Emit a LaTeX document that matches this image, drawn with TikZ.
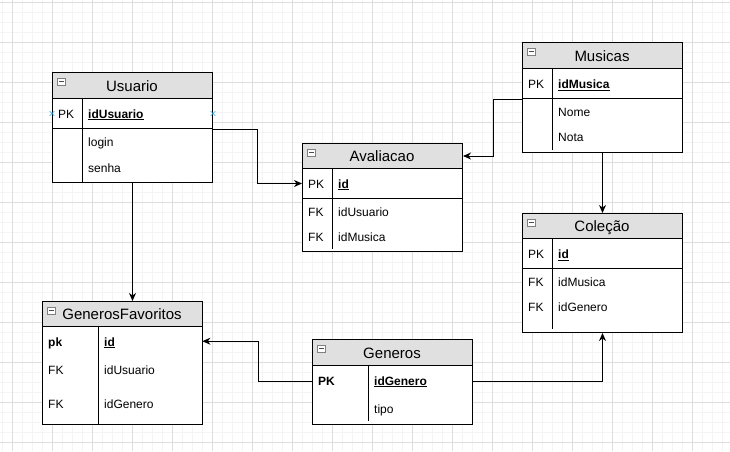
\documentclass[tikz,border=0pt]{standalone}
\usepackage{fontspec}
\setmainfont{Liberation Sans}
\usetikzlibrary{arrows.meta,shapes.misc}

\definecolor{headgray}{RGB}{224,224,224}
\definecolor{gridminor}{RGB}{244,244,244}
\definecolor{gridmajor}{RGB}{222,222,222}
\definecolor{pinblue}{RGB}{41,170,230}

\tikzset{
  tablebox/.style={draw=black, line width=1pt, fill=white, inner sep=0pt, rectangle},
  headbox/.style={draw=black, line width=1pt, fill=headgray, inner sep=0pt, rectangle},
  keyrow/.style={draw=black, line width=1pt, inner sep=0pt, minimum width=160pt, rectangle},
  plainrow/.style={inner sep=0pt, minimum width=160pt, rectangle},
  toggle/.style={draw=gray, fill=white, minimum width=8pt, minimum height=7pt,
    inner sep=0pt, line width=0.7pt, rectangle,
    path picture={\draw[line width=0.8pt, black!70]
      ([xshift=1.8pt]path picture bounding box.west) --
      ([xshift=-1.8pt]path picture bounding box.east);}},
  titletext/.style={anchor=base, inner sep=0pt, font=\fontsize{15}{18}\selectfont},
  fieldtext/.style={anchor=base west, inner sep=0pt, font=\fontsize{12}{14}\selectfont},
  keytext/.style={anchor=base west, inner sep=0pt, font=\fontsize{12}{14}\selectfont\bfseries},
  divider/.style={line width=1pt},
  conn/.style={line width=1pt, -{Stealth[length=8pt,width=7pt,inset=2.5pt]}},
  pin/.style={cross out, draw=pinblue, line width=0.6pt, minimum size=4pt, inner sep=0pt}
}

% table frame: name, left, top, height, header height, title baseline, title
\newcommand\ertable[7]{%
  \node[tablebox, minimum width=160pt, minimum height=#4pt, anchor=north west] (#1) at (#2,#3) {};
  \node[headbox, minimum width=160pt, minimum height=#5pt, anchor=north west] (#1-head) at (#2,#3) {};
  \node[toggle, anchor=north west] (#1-toggle) at ([shift={(5pt,-6pt)}]#1-head.north west) {};
  \node[titletext] (#1-title) at ({#2+80},#6) {#7};
}

\begin{document}
\begin{tikzpicture}[x=1pt,y=-1pt]
\useasboundingbox (0,0) rectangle (730,451);
\fill[white] (0,0) rectangle (730,451);

% background grid
\foreach \x in {2,12,...,722} \draw[gridminor, line width=0.8pt] (\x,0) -- (\x,451);
\foreach \y in {2,12,...,442} \draw[gridminor, line width=0.8pt] (0,\y) -- (730,\y);
\foreach \x in {12,52,...,692} \draw[gridmajor, line width=0.8pt] (\x,0) -- (\x,451);
\foreach \y in {2,42,...,442} \draw[gridmajor, line width=0.8pt] (0,\y) -- (730,\y);

% Usuario
\ertable{usuario}{52}{72}{110}{26}{91}{Usuario}
\node[keyrow, minimum height=30pt, anchor=north west] (usuario-pk) at (52,98) {};
\draw[divider] (82,98) -- (82,182);
\node[fieldtext] (usuario-pkl) at (58,118) {PK};
\node[keytext] (usuario-id) at (88,118) {\underline{idUsuario}};
\node[fieldtext] (usuario-login) at (88,146.5) {login};
\node[fieldtext] (usuario-senha) at (88,172) {senha};
\node[pin] (usuario-pinl) at (usuario-pk.west) {};
\node[pin] (usuario-pinr) at (usuario-pk.east) {};

% Avaliacao
\ertable{aval}{302}{143}{108}{25}{161}{Avaliacao}
\node[keyrow, minimum height=30pt, anchor=north west] (aval-pk) at (302,168) {};
\draw[divider] (332,168) -- (332,249);
\node[fieldtext] (aval-pkl) at (308,188) {PK};
\node[keytext] (aval-id) at (338,188) {\underline{id}};
\node[fieldtext] (aval-fk1) at (308,216) {FK};
\node[fieldtext] (aval-usr) at (338,216) {idUsuario};
\node[fieldtext] (aval-fk2) at (308,241) {FK};
\node[fieldtext] (aval-mus) at (338,241) {idMusica};

% Musicas
\ertable{musicas}{522}{42}{110}{26}{61}{Musicas}
\node[keyrow, minimum height=30pt, anchor=north west] (musicas-pk) at (522,68) {};
\draw[divider] (552,68) -- (552,150);
\node[fieldtext] (musicas-pkl) at (528,88.5) {PK};
\node[keytext] (musicas-id) at (558,88.5) {\underline{idMusica}};
\node[fieldtext] (musicas-nome) at (558,116) {Nome};
\node[fieldtext] (musicas-nota) at (558,141.5) {Nota};

% Colecao
\ertable{colecao}{522}{213}{119}{25}{231}{Coleção}
\node[keyrow, minimum height=30pt, anchor=north west] (colecao-pk) at (522,238) {};
\draw[divider] (552,238) -- (552,329);
\node[fieldtext] (colecao-pkl) at (528,258.5) {PK};
\node[keytext] (colecao-id) at (558,258.5) {\underline{id}};
\node[fieldtext] (colecao-fk1) at (528,286) {FK};
\node[fieldtext] (colecao-mus) at (558,286) {idMusica};
\node[fieldtext] (colecao-fk2) at (528,311) {FK};
\node[fieldtext] (colecao-gen) at (558,311) {idGenero};

% GenerosFavoritos
\ertable{genfav}{42}{301}{123}{25}{319.5}{GenerosFavoritos}
\node[plainrow, minimum height=30pt, anchor=north west] (genfav-pk) at (42,326) {};
\draw[divider] (98,326) -- (98,424);
\node[keytext] (genfav-pkl) at (48,346) {pk};
\node[keytext] (genfav-id) at (104,346) {\underline{id}};
\node[fieldtext] (genfav-fk1) at (48,374) {FK};
\node[fieldtext] (genfav-usr) at (104,374) {idUsuario};
\node[fieldtext] (genfav-fk2) at (48,408) {FK};
\node[fieldtext] (genfav-gen) at (104,408) {idGenero};

% Generos
\ertable{generos}{312}{339}{85}{26}{358}{Generos}
\node[plainrow, minimum height=32pt, anchor=north west] (generos-pk) at (312,365) {};
\draw[divider] (368,365) -- (368,421);
\node[keytext] (generos-pkl) at (318,385) {PK};
\node[keytext] (generos-id) at (374,385) {\underline{idGenero}};
\node[fieldtext] (generos-tipo) at (374,413.5) {tipo};

% relationship connectors
\coordinate (bendA) at (257,0);
\coordinate (bendB) at (493,0);
\coordinate (bendC) at (258,0);
\draw[conn] (usuario-pk.south east) -| (bendA |- aval-pk.west) -- (aval-pk.west);
\draw[conn] (musicas-pk.south west) -| (bendB |- aval-head.east) -- (aval-head.east);
\draw[conn] (musicas.south) -- (colecao.north);
\draw[conn] (usuario.south) -- (usuario.south |- genfav.north);
\draw[conn] (generos-pk.west) -| (bendC |- genfav-pk.east) -- (genfav-pk.east);
\draw[conn] (generos-pk.east) -| (colecao.south);
\end{tikzpicture}
\end{document}
